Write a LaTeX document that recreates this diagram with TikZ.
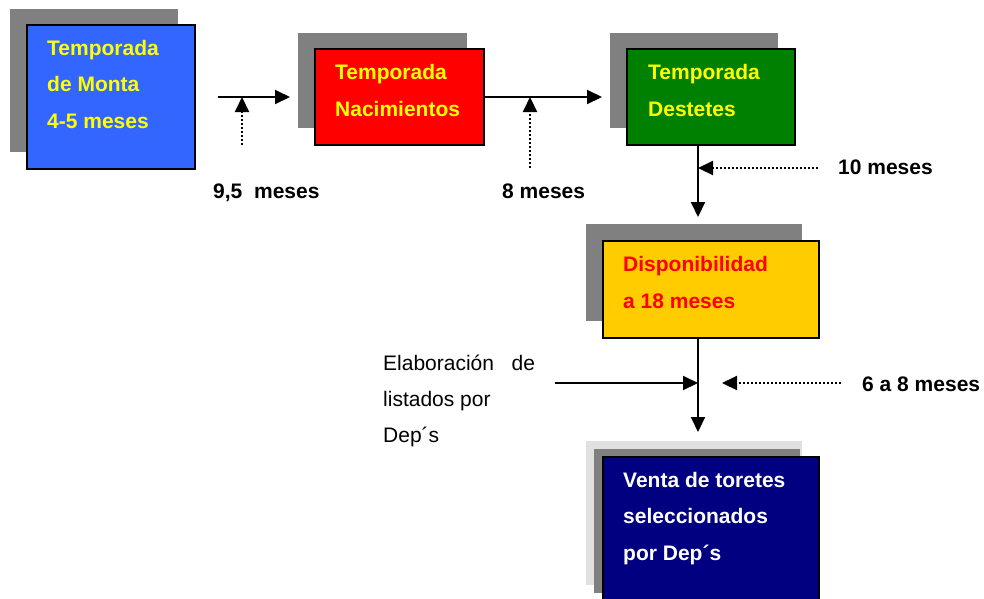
\documentclass[tikz,border=0pt]{standalone}
\usepackage{fontspec}
\setmainfont{Liberation Sans}
\usepackage{tikz}
\usetikzlibrary{arrows.meta}

\definecolor{montablue}{HTML}{3366FF}
\definecolor{nacred}{HTML}{FF0000}
\definecolor{destgreen}{HTML}{008000}
\definecolor{dispyellow}{HTML}{FFCC00}
\definecolor{ventanavy}{HTML}{000080}
\definecolor{shadegray}{HTML}{808080}
\definecolor{shadelight}{HTML}{E0E0E0}
\definecolor{txtyellow}{HTML}{FFFF00}

\begin{document}
\begin{tikzpicture}[x=1pt, y=-1pt,
  box/.style = {draw=black, line width=2pt, inner sep=0pt, anchor=north west},
  boxtext/.style = {inner sep=0pt, anchor=base west, align=left,
    font=\bfseries\fontsize{21}{36.5}\selectfont},
  lbl/.style = {inner sep=0pt, anchor=base west, font=\bfseries\fontsize{21}{25}\selectfont},
  arr/.style = {line width=2pt, -{Triangle[length=15pt, width=14pt]}},
  dotarr/.style = {arr, line width=2.2pt, dash pattern=on 2pt off 2pt}]
  \useasboundingbox (0,0) rectangle (984,598);

  \fill[shadegray] (10,9) rectangle (178,152);
  \fill[shadegray] (298,33) rectangle (467,128);
  \fill[shadegray] (610,33) rectangle (778,128);
  \fill[shadegray] (586,224) rectangle (802,321);
  \fill[shadelight] (586,441) rectangle (802,585);
  \fill[shadegray] (594,449) rectangle (800,593);

  \node[box, fill=montablue, minimum width=168pt, minimum height=144pt] (monta) at (26,24) {};
  \node[box, fill=nacred, minimum width=169pt, minimum height=96pt] (nac) at (314,48) {};
  \node[box, fill=destgreen, minimum width=168pt, minimum height=96pt] (dest) at (626,48) {};
  \node[box, fill=dispyellow, minimum width=216pt, minimum height=97pt] (disp) at (602,240) {};
  \node[box, fill=ventanavy, minimum width=216pt, minimum height=150pt] (venta) at (602,456) {};

  \node[boxtext, text=txtyellow] (montatxt) at (47,128) {Temporada\\de Monta\\4-5 meses};
  \node[boxtext, text=txtyellow] (nactxt) at (335,116) {Temporada\\Nacimientos};
  \node[boxtext, text=txtyellow] (desttxt) at (648,116) {Temporada\\Destetes};
  \node[boxtext, text=nacred] (disptxt) at (623,308) {Disponibilidad\\a 18 meses};
  \node[boxtext, text=white] (ventatxt) at (623,560) {Venta de toretes\\seleccionados\\por Dep´s};

  \node[lbl] (t95) at (213,198) {9,5\hspace{11.7pt}meses};
  \node[lbl] (t8) at (502,198) {8 meses};
  \node[lbl] (t10) at (838,174) {10 meses};
  \node[lbl] (t68) at (862,391) {6 a 8 meses};
  \node[inner sep=0pt, anchor=base west, align=left, font=\fontsize{21}{36}\selectfont]
    (elab) at (383,442) {Elaboración\hspace{17.5pt}de\\listados por\\Dep´s};

  \coordinate (a1s) at (218,97);
  \coordinate (a1e) at (290,97);
  \coordinate (d1s) at (242,145);
  \coordinate (d1e) at (242,97);
  \coordinate (a2e) at (602,96);
  \coordinate (d2s) at (530,168);
  \coordinate (d2e) at (530,97);
  \coordinate (a3s) at (698,144);
  \coordinate (a3e) at (698,217);
  \coordinate (d3s) at (818,168);
  \coordinate (d3e) at (698,168);
  \coordinate (a4s) at (698,337);
  \coordinate (a4e) at (698,432);
  \coordinate (elabs) at (555,383);
  \coordinate (elabe) at (698,383);
  \coordinate (d4s) at (841,383);
  \coordinate (d4e) at (722,383);

  \draw[arr] (a1s) -- (a1e);
  \draw[dotarr] (d1s) -- (d1e);
  \draw[arr] (nac.east) -- (nac.east -| a2e);
  \draw[dotarr] (d2s) -- (d2e);
  \draw[arr] (a3s) -- (a3e);
  \draw[dotarr] (d3s) -- (d3e);
  \draw[arr] (a4s) -- (a4e);
  \draw[arr] (elabs) -- (elabe);
  \draw[dotarr] (d4s) -- (d4e);
\end{tikzpicture}
\end{document}
